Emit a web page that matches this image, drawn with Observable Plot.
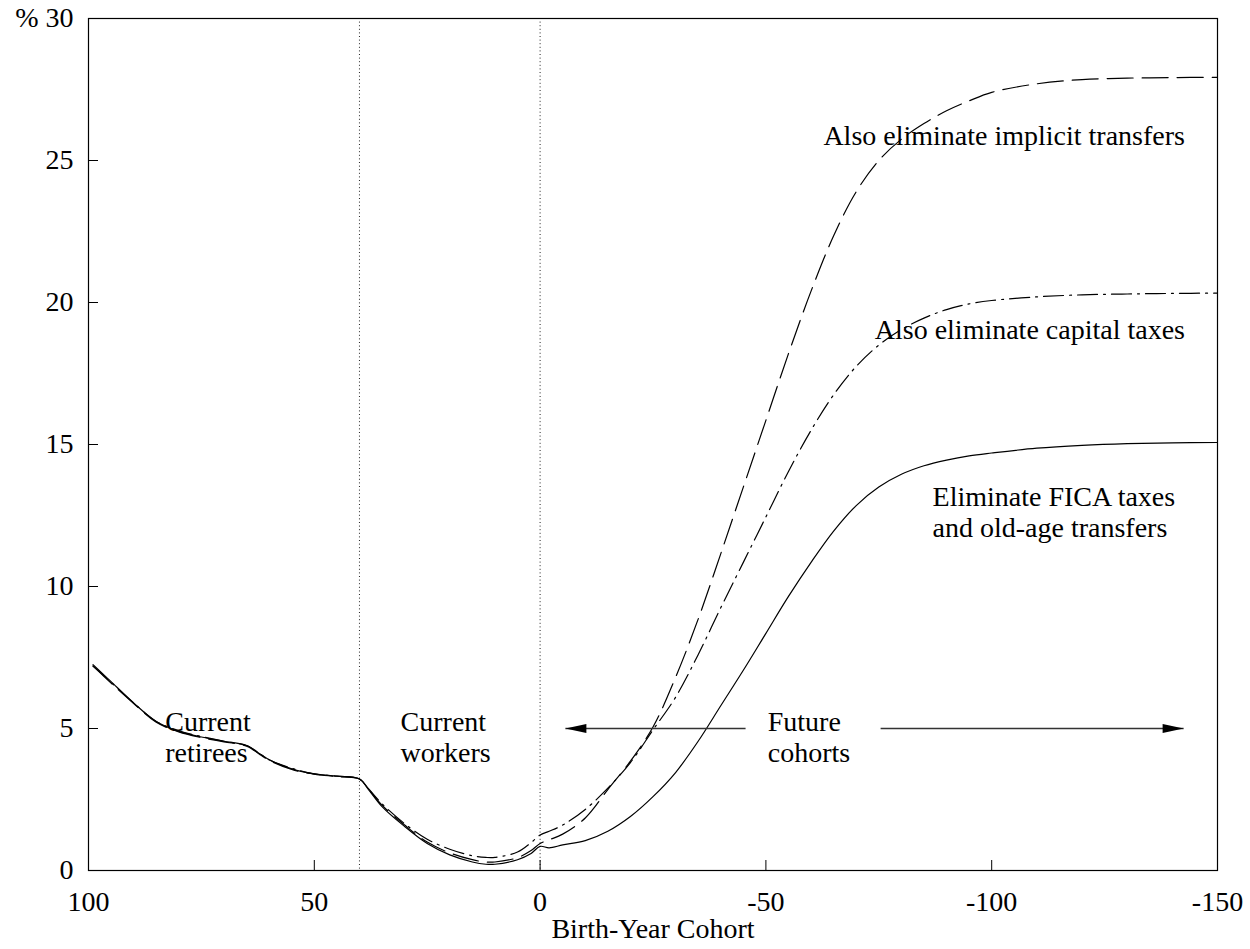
<!DOCTYPE html>
<html>
<head>
<meta charset="utf-8">
<script src="https://cdn.jsdelivr.net/npm/d3@7"></script>
<script src="https://cdn.jsdelivr.net/npm/@observablehq/plot@0.6"></script>
<style>
  html, body { margin: 0; padding: 0; background: #fff; }
</style>
</head>
<body>
<div id="chart"></div>
<script>
// Birth-year cohorts (x axis, reversed: 100 on the left, -150 on the right)
const cohorts = [99, 97, 95, 90, 85, 80, 75, 70, 65, 62, 60, 55, 50, 45, 40, 38, 35, 30, 25, 20, 15, 12, 10, 5, 2, 0, -2, -5, -10, -15, -20, -25, -30, -35, -40, -45, -50, -55, -60, -65, -70, -75, -80, -85, -90, -95, -100, -110, -120, -130, -140, -150];

// Eliminate FICA taxes and old-age transfers (solid)
const ficaValues = [7.25, 6.95, 6.65, 5.9, 5.25, 4.9, 4.7, 4.55, 4.4, 4.1, 3.9, 3.58, 3.4, 3.32, 3.22, 2.85, 2.25, 1.55, 0.95, 0.55, 0.3, 0.22, 0.22, 0.38, 0.6, 0.85, 0.8, 0.9, 1.05, 1.38, 1.9, 2.6, 3.45, 4.55, 5.8, 7.05, 8.35, 9.65, 10.85, 11.95, 12.85, 13.5, 13.95, 14.25, 14.45, 14.6, 14.7, 14.87, 14.97, 15.03, 15.06, 15.07];

// Also eliminate capital taxes (dash-dot)
const capitalValues = [7.2, 6.92, 6.62, 5.9, 5.25, 4.92, 4.72, 4.55, 4.4, 4.1, 3.9, 3.6, 3.4, 3.32, 3.22, 2.88, 2.35, 1.65, 1.1, 0.75, 0.52, 0.46, 0.46, 0.65, 0.98, 1.25, 1.38, 1.6, 2.15, 2.9, 3.8, 4.95, 6.1, 7.6, 9.25, 10.85, 12.45, 14.05, 15.5, 16.75, 17.75, 18.5, 19.05, 19.45, 19.75, 19.95, 20.07, 20.2, 20.27, 20.3, 20.32, 20.33];

// Also eliminate implicit transfers (dashed)
const implicitValues = [7.2, 6.9, 6.6, 5.88, 5.22, 4.88, 4.68, 4.53, 4.38, 4.08, 3.88, 3.56, 3.39, 3.31, 3.22, 2.87, 2.3, 1.6, 1.0, 0.62, 0.38, 0.3, 0.3, 0.45, 0.7, 0.95, 1.08, 1.28, 1.85, 2.85, 3.85, 5.05, 6.8, 8.85, 11.15, 13.5, 15.85, 18.2, 20.4, 22.35, 23.9, 25.0, 25.75, 26.3, 26.75, 27.1, 27.4, 27.7, 27.85, 27.9, 27.92, 27.93];

const xTicks = [100, 50, 0, -50, -100, -150];
const yTicks = [0, 5, 10, 15, 20, 25, 30];
const dividers = [40, 0];

// Annotation texts with anchor positions in data units
const labelTexts = ["Also eliminate implicit transfers", "Also eliminate capital taxes", "Eliminate FICA taxes\nand old-age transfers", "Current\nretirees", "Current\nworkers", "Future\ncohorts"];
const labelX = [-142.8, -142.8, -86.9, 83.0, 30.9, -50.4];
const labelY = [25.88, 19.05, 12.64, 4.72, 4.72, 4.72];
const labelAnchor = ["end", "end", "start", "start", "start", "start"];

// Arrows for "Future cohorts"
const arrowFrom = [-45.5, -75.4];
const arrowTo = [-5.6, -142.5];
const arrowLevel = [5.0, 5.0];

const seriesStyle = {
  fica: {values: ficaValues, dash: null},
  capital: {values: capitalValues, dash: "20,6,2,6"},
  implicit: {values: implicitValues, dash: "26,9"}
};

const lineMarks = Object.entries(seriesStyle).map(([name, s]) => {
  const rows = cohorts.map((c, i) => ({x: c, y: s.values[i]}));
  return Plot.line(rows, {
    x: "x", y: "y", curve: "catmull-rom",
    stroke: "black", strokeWidth: 1.2,
    strokeDasharray: s.dash
  });
});

const labels = labelTexts.map((t, i) => ({text: t, x: labelX[i], y: labelY[i], anchor: labelAnchor[i]}));
const arrows = arrowFrom.map((f, i) => ({x1: f, x2: arrowTo[i], y: arrowLevel[i], dir: arrowTo[i] > f ? "left" : "right"}));

const headLeft = {draw(ctx) { ctx.moveTo(0, 0); ctx.lineTo(21, -4.5); ctx.lineTo(21, 4.5); ctx.closePath(); }};
const headRight = {draw(ctx) { ctx.moveTo(0, 0); ctx.lineTo(-21, -4.5); ctx.lineTo(-21, 4.5); ctx.closePath(); }};

const chart = Plot.plot({
  width: 1250,
  height: 949,
  marginTop: 18,
  marginRight: 33,
  marginBottom: 79,
  marginLeft: 88,
  style: {fontFamily: "'Liberation Serif', 'Times New Roman', serif", fontSize: "28px", background: "white", color: "black"},
  x: {domain: [100, -150]},
  y: {domain: [0, 30]},
  marks: [
    Plot.ruleX(dividers, {stroke: "#222", strokeWidth: 1, strokeDasharray: "1,2.6"}),
    ...lineMarks,
    Plot.link(arrows, {x1: "x1", x2: "x2", y1: "y", y2: "y", stroke: "#333", strokeWidth: 1.3}),
    Plot.dot(arrows.filter(a => a.dir === "left"), {x: "x2", y: "y", symbol: headLeft, fill: "black", stroke: "none", r: 5}),
    Plot.dot(arrows.filter(a => a.dir === "right"), {x: "x2", y: "y", symbol: headRight, fill: "black", stroke: "none", r: 5}),
    Plot.text(labels.filter(d => d.anchor === "end"), {x: "x", y: "y", text: "text", textAnchor: "end", fontSize: 28, lineHeight: 1.07, fill: "black"}),
    Plot.text(labels.filter(d => d.anchor === "start"), {x: "x", y: "y", text: "text", textAnchor: "start", fontSize: 28, lineHeight: 1.1, fill: "black"}),
    Plot.axisX(xTicks, {tickSize: -10, tickPadding: 31, label: null, tickFormat: d => String(d), fontSize: 28}),
    Plot.axisY(yTicks, {tickSize: -10, tickPadding: 25, label: null, tickFormat: d => d === 30 ? "% 30" : String(d), fontSize: 28}),
    Plot.text(["Birth-Year Cohort"], {frameAnchor: "bottom", dy: 67, fontSize: 28, fill: "black"}),
    Plot.frame({stroke: "black", strokeWidth: 1.2})
  ]
});

document.getElementById("chart").appendChild(chart);
</script>
</body>
</html>
